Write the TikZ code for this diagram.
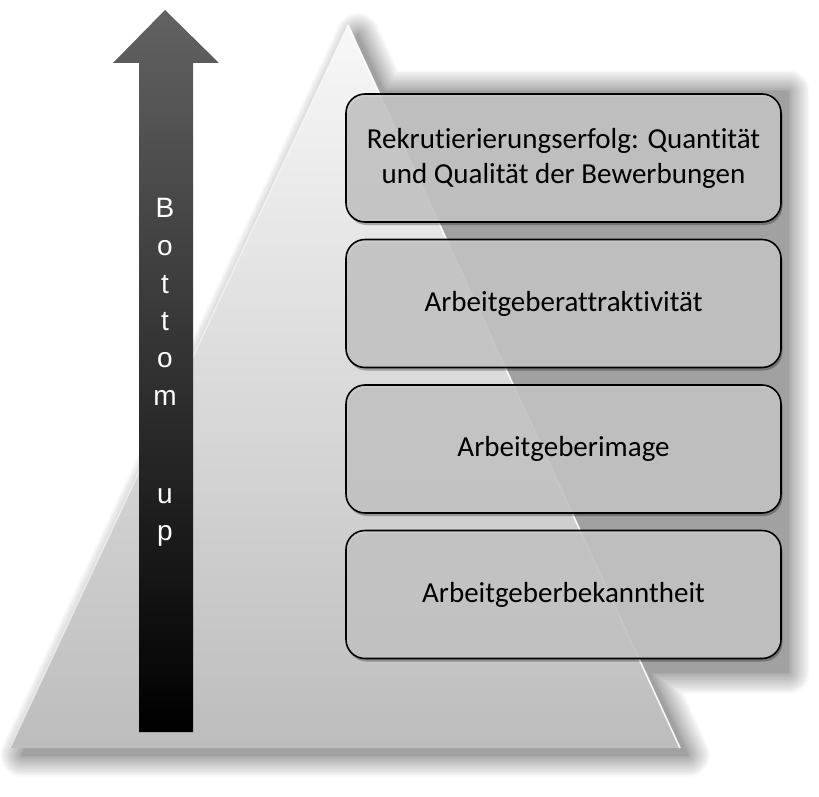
\documentclass[tikz,border=0pt]{standalone}
\usepackage{fontspec}
\setmainfont{Carlito}[Ligatures={NoCommon}]
\newfontfamily\arrowfont{Liberation Sans}
\definecolor{boxgray}{HTML}{C9C9C9}
\definecolor{arrowtop}{HTML}{626262}
\definecolor{arrowmid}{HTML}{161616}
\begin{document}
\begin{tikzpicture}[x=1pt,y=-1pt,
  levelbox/.style={draw=black, line width=1.6pt, rounded corners=19pt,
    fill=boxgray, fill opacity=0.88, text opacity=1,
    minimum width=435pt, minimum height=128pt, inner sep=0pt,
    align=center, text=black, font=\fontsize{29}{35}\selectfont,
    preaction={fill=black, fill opacity=0.28, draw=none,
      transform canvas={shift={(1.5pt,-3pt)}}}},
  letter/.style={text=white, font=\arrowfont\fontsize{28}{28}\selectfont,
    anchor=base, inner sep=0pt}
]
\useasboundingbox (0,0) rectangle (819,797);

% soft shadow behind the pyramid and the stack of levels
\foreach \i in {0,...,11} {
  \pgfmathsetmacro\r{2*(22-2*\i)}
  \pgfmathtruncatemacro\c{98-3.1*\i}
  \filldraw[draw=white!\c!black, fill=white!\c!black, line width=\r pt, line join=round]
    (358,35) -- (22,755) -- (688,755) -- cycle;
  \filldraw[draw=white!\c!black, fill=white!\c!black, line width=\r pt, line join=round]
    (362,92) rectangle (788,672);
}

% pyramid face
\shade[top color=white!97!black, middle color=white!85!black, bottom color=white!74!black]
  (348,25) -- (10,748) -- (680,748) -- cycle;
\draw[white, line width=1.6pt, opacity=0.9] (348,25) -- (680,748);
\draw[white, line width=1.5pt, opacity=0.5] (348,25) -- (10,748);

% upward arrow
\shade[top color=arrowtop, middle color=arrowmid, bottom color=black]
  (165,10) -- (219,63) -- (193,63) -- (193,732) -- (139,732) -- (139,63) -- (113,63) -- cycle;
\node[letter] (l1) at (165,217) {B};
\node[letter] (l2) at (165,255) {o};
\node[letter] (l3) at (165,293) {t};
\node[letter] (l4) at (165,330) {t};
\node[letter] (l5) at (165,367) {o};
\node[letter] (l6) at (165,405) {m};
\node[letter] (l7) at (165,503) {u};
\node[letter] (l8) at (165,540) {p};

% levels
\node[levelbox] (top) at (563.5,158) {Rekrutierierungserfolg: Quantität\\und Qualität der Bewerbungen};
\node[levelbox] (attr) at (563.5,303.5) {Arbeitgeberattraktivität};
\node[levelbox] (img) at (563.5,449) {Arbeitgeberimage};
\node[levelbox] (bek) at (563.5,594.5) {Arbeitgeberbekanntheit};
\end{tikzpicture}
\end{document}
